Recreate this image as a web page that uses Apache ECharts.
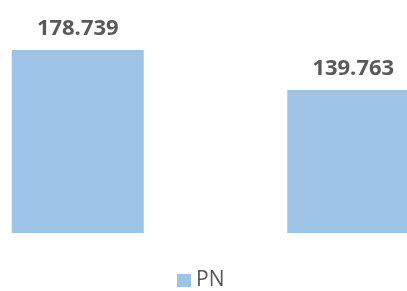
<!DOCTYPE html>
<html>
<head>
<meta charset="utf-8">
<script src="https://cdn.jsdelivr.net/npm/echarts@6/dist/echarts.min.js"></script>
<style>
  html, body { margin: 0; padding: 0; background: #fff; }
  #chart { width: 407px; height: 291px; }
</style>
</head>
<body>
<div id="chart"></div>
<script>
const categories = ['A', 'B']
const pnValues = [178.739, 139.763]
const seriesName = 'PN'

const chart = echarts.init(document.getElementById('chart'))
const option = {
  animation: false,
  textStyle: { fontFamily: 'Open Sans' },
  grid: {
    left: -60, right: -84, top: 50, bottom: 58,
    containLabel: false,
    outerBoundsMode: 'none'
  },
  legend: {
    data: [seriesName],
    top: 270,
    left: 177,
    padding: 0,
    icon: 'rect',
    itemWidth: 14,
    itemHeight: 13,
    itemGap: 6,
    textStyle: { color: '#595959', fontSize: 21, fontFamily: 'Open Sans' }
  },
  xAxis: {
    type: 'category',
    data: categories,
    axisLine: { show: false },
    axisTick: { show: false },
    axisLabel: { show: false }
  },
  yAxis: {
    type: 'value',
    min: 0,
    max: 'dataMax',
    splitLine: { show: false },
    axisLine: { show: false },
    axisTick: { show: false },
    axisLabel: { show: false }
  },
  series: [
    {
      name: seriesName,
      type: 'bar',
      data: pnValues,
      barWidth: 132,
      itemStyle: { color: '#9DC3E6' },
      label: {
        show: true,
        position: 'top',
        distance: 10,
        color: '#595959',
        fontSize: 22,
        fontWeight: 'bold',
        fontFamily: 'Open Sans'
      }
    }
  ]
}
chart.setOption(option)
</script>
</body>
</html>
